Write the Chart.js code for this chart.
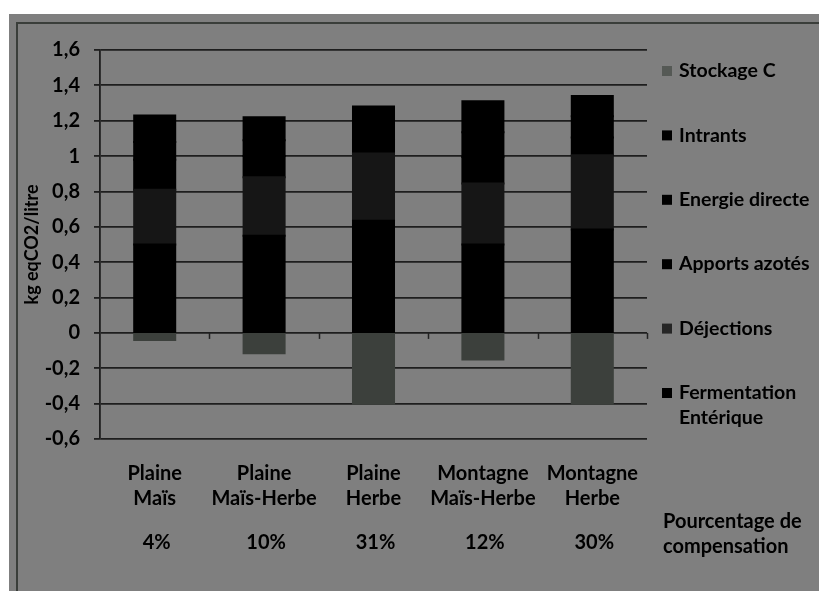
<!DOCTYPE html>
<html>
<head>
<meta charset="utf-8">
<script src="https://cdn.jsdelivr.net/npm/chart.js@4.4.1/dist/chart.umd.min.js"></script>
<style>
  html, body { margin: 0; padding: 0; background: #fff; }
  #wrap { width: 819px; height: 591px; }
</style>
</head>
<body>
<div id="wrap"><canvas id="chart" width="819" height="591"></canvas></div>
<script>
// categories (two lines each) and compensation percentages
const categories = [
  ['Plaine', 'Maïs'],
  ['Plaine', 'Maïs-Herbe'],
  ['Plaine', 'Herbe'],
  ['Montagne', 'Maïs-Herbe'],
  ['Montagne', 'Herbe']
];
const compensation = ['4%', '10%', '31%', '12%', '30%'];

// series, kg eqCO2 / litre
const fermentation = [0.50, 0.55, 0.635, 0.50, 0.585];
const dejections   = [0.31, 0.33, 0.38, 0.345, 0.42];
const apports      = [0.17, 0.12, 0.08, 0.15, 0.10];
const energie      = [0.10, 0.09, 0.09, 0.14, 0.12];
const intrants     = [0.15, 0.13, 0.095, 0.175, 0.115];
const stockage     = [-0.04, -0.115, -0.40, -0.15, -0.40];

const FONT = 'Lato, "Open Sans", sans-serif';
const BG = '#7f7f7f';
const INK = '#000';

const frame = {
  id: 'frame',
  beforeDraw(chart) {
    const c = chart.ctx;
    c.save();
    c.fillStyle = '#fff';
    c.fillRect(0, 0, chart.width, chart.height);
    c.fillStyle = BG;
    c.fillRect(9, 14, chart.width - 9, chart.height - 14);
    c.strokeStyle = '#3a3e3a';
    c.lineWidth = 2;
    c.beginPath();
    c.moveTo(chart.width, 23);
    c.lineTo(17, 23);
    c.lineTo(17, chart.height);
    c.stroke();
    c.restore();
  }
};

const extras = {
  id: 'extras',
  afterDraw(chart) {
    const c = chart.ctx;
    const x = chart.scales.x, y = chart.scales.y;
    const a = chart.chartArea;
    c.save();
    // small category ticks on the zero line
    const y0 = y.getPixelForValue(0);
    const step = (a.right - a.left) / categories.length;
    c.strokeStyle = '#222';
    c.lineWidth = 1.5;
    for (let i = 1; i <= categories.length; i++) {
      const px = Math.round(a.left + i * step) + 0.5;
      c.beginPath();
      c.moveTo(px, y0);
      c.lineTo(px, y0 + 6);
      c.stroke();
    }
    // percentages under the category labels
    c.fillStyle = INK;
    c.font = 'bold 20px ' + FONT;
    c.textAlign = 'center';
    c.textBaseline = 'middle';
    compensation.forEach((p, i) => {
      c.fillText(p, x.getPixelForValue(i) + 2, 543);
    });
    c.textAlign = 'left';
    c.fillText('Pourcentage de', 663, 522);
    c.fillText('compensation', 663, 547);

    // legend, top series first
    c.font = 'bold 19.5px ' + FONT;
    const ds = chart.data.datasets.slice().reverse();
    ds.forEach((d, i) => {
      const cy = 71 + i * 64.4;
      c.fillStyle = d.legendColor || d.backgroundColor;
      c.fillRect(662, cy - 5, 10, 10);
      c.fillStyle = INK;
      const lines = Array.isArray(d.label) ? d.label : [d.label];
      lines.forEach((t, k) => c.fillText(t, 679, cy + k * 25));
    });
    c.restore();
  }
};

new Chart(document.getElementById('chart'), {
  type: 'bar',
  data: {
    labels: categories,
    datasets: [
      { label: ['Fermentation', 'Entérique'], data: fermentation, backgroundColor: '#000000' },
      { label: 'Déjections', data: dejections, backgroundColor: '#161616', legendColor: '#262626' },
      { label: 'Apports azotés', data: apports, backgroundColor: '#000000' },
      { label: 'Energie directe', data: energie, backgroundColor: '#000000' },
      { label: 'Intrants', data: intrants, backgroundColor: '#000000' },
      { label: 'Stockage C', data: stockage, backgroundColor: '#3c403c', legendColor: '#555955' }
    ]
  },
  options: {
    responsive: false,
    animation: false,
    devicePixelRatio: 1,
    layout: { padding: { left: 0, right: 172, top: 50, bottom: 0 } },
    datasets: { bar: { categoryPercentage: 1, barPercentage: 0.375, borderWidth: 0, inflateAmount: 1 } },
    plugins: { legend: { display: false }, tooltip: { enabled: false } },
    scales: {
      x: {
        stacked: true,
        grid: { display: false },
        border: { display: false },
        ticks: {
          color: INK,
          font: { family: FONT, size: 20, weight: 'bold', lineHeight: 1.25 },
          padding: 14,
          maxRotation: 0,
          autoSkip: false
        },
        afterFit(s) { s.height = 152; }
      },
      y: {
        stacked: true,
        min: -0.6,
        max: 1.6,
        grid: { color: '#1e1e1e', lineWidth: 1.8, tickLength: 6 },
        border: { display: true, color: '#1e1e1e', width: 1.8 },
        ticks: {
          stepSize: 0.2,
          color: INK,
          padding: 14,
          font: { family: FONT, size: 20, weight: 'bold' },
          callback: v => String(Math.round(v * 10) / 10).replace('.', ',')
        },
        title: {
          display: true,
          text: 'kg eqCO2/litre',
          color: INK,
          font: { family: FONT, size: 18, weight: 'bold' },
          padding: { top: 21, bottom: 0 }
        },
        afterFit(s) { s.width = 100; }
      }
    }
  },
  plugins: [frame, extras]
});
</script>
</body>
</html>
